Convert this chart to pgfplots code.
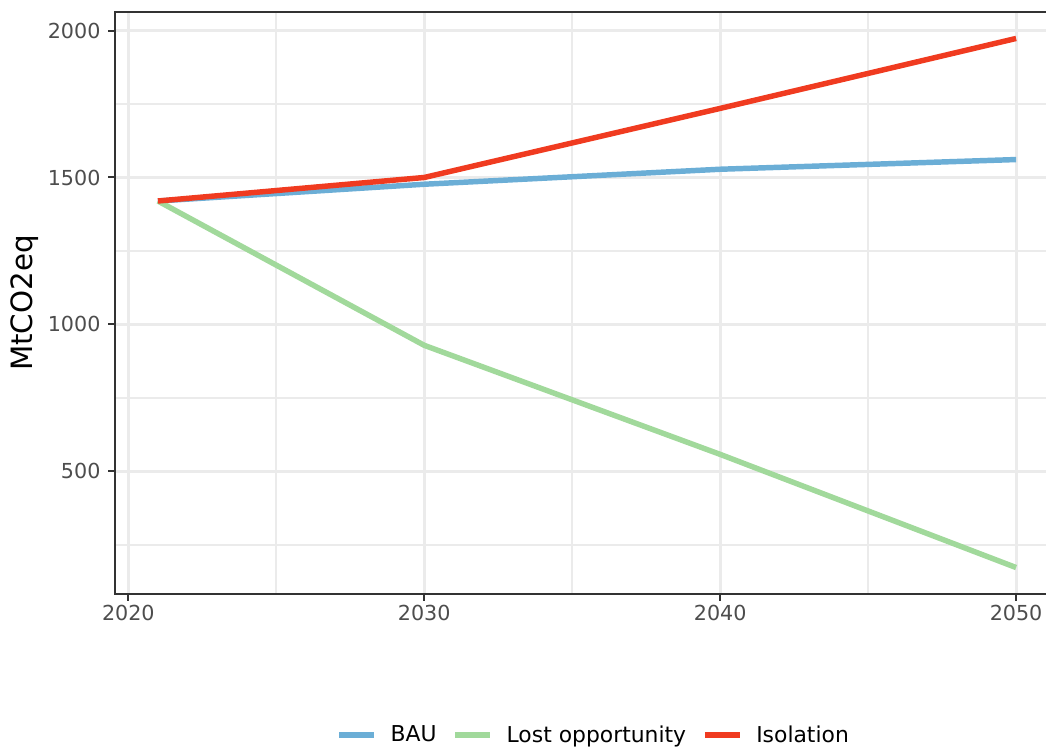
\documentclass[border=0pt]{standalone}
\usepackage{fontspec}
\setmainfont{DejaVu Sans}
\usepackage{pgfplots}
\pgfplotsset{compat=1.18}
\definecolor{bau}{HTML}{6BAED6}
\definecolor{lost}{HTML}{A1D99B}
\definecolor{iso}{HTML}{F03B20}
\definecolor{gridc}{HTML}{EBEBEB}
\definecolor{tickc}{HTML}{4D4D4D}
\definecolor{framec}{HTML}{333333}
\begin{document}
\begin{tikzpicture}
\begin{axis}[name=ax, scale only axis, width=708pt, height=436.5pt,
 xmin=2019.55, xmax=2051.45, ymin=83, ymax=2063,
 xtick={2020,2030,2040,2050}, ytick={500,1000,1500,2000},
 minor xtick={2025,2035,2045}, minor ytick={250,750,1250,1750},
 grid=both, major grid style={gridc, line width=2.2pt}, minor grid style={gridc, line width=1.2pt},
 axis line style={framec, line width=1.1pt},
 tick style={framec, line width=1.5pt}, major tick length=5.2pt, minor tick length=0pt,
 tick align=outside, xtick pos=lower, ytick pos=left,
 tick label style={font=\fontsize{15.5}{18}\selectfont, text=tickc},
 yticklabel style={xshift=-2.2pt},
 /pgf/number format/assume math mode=true, /pgf/number format/1000 sep={},
 ylabel={MtCO2eq}, ylabel style={font=\fontsize{22}{26}\selectfont, at={(axis description cs:-0.0953,0.5)}, anchor=center},
 legend columns=-1,
 legend style={draw=none, fill=none, at={(axis description cs:0.5074,-0.2423)}, anchor=center,
   font=\fontsize{16.4}{19}\selectfont, /tikz/every even column/.append style={column sep=10pt}},
 legend image code/.code={\draw[#1, line width=4.1pt] (0pt,0pt) -- (26pt,0pt); \path (34.5pt,0pt);},
 every axis plot/.append style={line width=4.1pt, line join=round},
]
\addplot[bau] coordinates {(2021,1420) (2030,1477) (2040,1528) (2050,1561)};
\addlegendentry{BAU}
\addplot[lost] coordinates {(2021,1420) (2030,929) (2040,558) (2050,173)};
\addlegendentry{Lost opportunity}
\addplot[iso] coordinates {(2021,1420) (2030,1500) (2040,1735) (2050,1973)};
\addlegendentry{Isolation}
\end{axis}
\pgfresetboundingbox
\path[use as bounding box] ([xshift=-86.25pt,yshift=-115.5pt]ax.south west) rectangle ([xshift=698.25pt,yshift=445.5pt]ax.south west);
\end{tikzpicture}
\end{document}
